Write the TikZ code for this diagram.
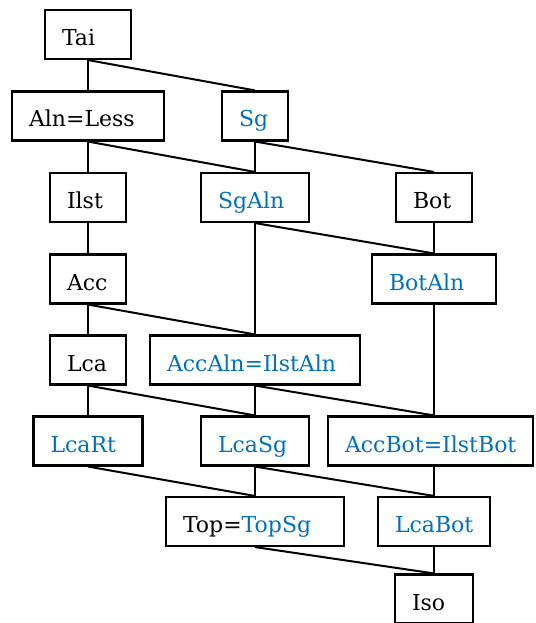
\documentclass[tikz,border=0pt]{standalone}
\usepackage{fontspec}
\setmainfont{DejaVu Serif}
\definecolor{cblue}{HTML}{0070C0}
\tikzset{
  box/.style={draw, line width=2.1pt, rectangle, inner xsep=17pt, inner ysep=0pt,
    text height=22pt, text depth=0pt, minimum height=49pt,
    font=\fontsize{22}{26}\selectfont},
  conn/.style={line width=2pt},
}
\newcommand\bx[5]{\node[box,minimum width=#4pt] (#1) at (#2,#3) {\makebox[\dimexpr#4pt-34pt\relax][l]{#5}};}
\newcommand\bl[1]{\textcolor{cblue}{#1}}
\begin{document}
\begin{tikzpicture}[x=1pt,y=-1pt]
\useasboundingbox (0,0) rectangle (535,623);
% row 1
\bx{tai}{88}{34.5}{86}{Tai}
% row 2
\bx{aln}{88}{116}{152}{Aln=Less}
\bx{sg}{255}{116}{66}{\bl{Sg}}
% row 3
\bx{ilst}{88}{197.5}{76}{Ilst}
\bx{sgaln}{255}{197.5}{108}{\bl{SgAln}}
\bx{bot}{434}{197.5}{76}{Bot}
% row 4
\bx{acc}{88}{279}{76}{Acc}
\bx{botaln}{434}{279}{124}{\bl{BotAln}}
% row 5
\bx{lca}{88}{360}{76}{Lca}
\bx{accaln}{255}{360}{210}{\bl{AccAln=IlstAln}}
% row 6
\bx{lcart}{88}{441}{109}{\bl{LcaRt}}
\bx{lcasg}{255}{441}{108}{\bl{LcaSg}}
\bx{accbot}{430.5}{441}{205}{\bl{AccBot=IlstBot}}
% row 7
\bx{top}{255}{521.5}{178}{Top=\bl{TopSg}}
\bx{lcabot}{434}{521.5}{112}{\bl{LcaBot}}
% row 8
\bx{iso}{434}{599}{78}{Iso}
% connectors
\draw[conn] (tai.south) -- (aln.north);
\draw[conn] (tai.south) -- (sg.north);
\draw[conn] (aln.south) -- (ilst.north);
\draw[conn] (aln.south) -- (sgaln.north);
\draw[conn] (sg.south) -- (sgaln.north);
\draw[conn] (sg.south) -- (bot.north);
\draw[conn] (ilst.south) -- (acc.north);
\draw[conn] (sgaln.south) -- (accaln.north);
\draw[conn] (sgaln.south) -- (botaln.north);
\draw[conn] (bot.south) -- (botaln.north);
\draw[conn] (acc.south) -- (lca.north);
\draw[conn] (acc.south) -- (accaln.north);
\draw[conn] (botaln.south) -- ([xshift=3.5pt]accbot.north);
\draw[conn] (lca.south) -- (lcart.north);
\draw[conn] (lca.south) -- (lcasg.north);
\draw[conn] (accaln.south) -- (lcasg.north);
\draw[conn] (accaln.south) -- ([xshift=3.5pt]accbot.north);
\draw[conn] (lcart.south) -- (top.north);
\draw[conn] (lcasg.south) -- (top.north);
\draw[conn] (lcasg.south) -- (lcabot.north);
\draw[conn] ([xshift=3.5pt]accbot.south) -- (lcabot.north);
\draw[conn] (top.south) -- (iso.north);
\draw[conn] (lcabot.south) -- (iso.north);
\end{tikzpicture}
\end{document}
